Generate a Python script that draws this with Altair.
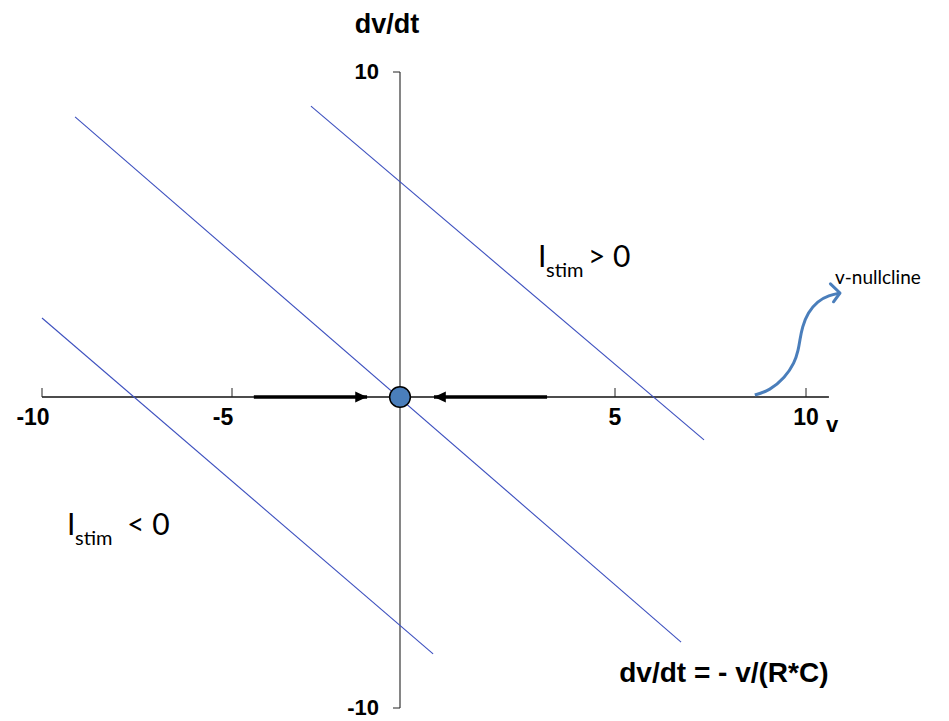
import altair as alt
import pandas as pd

# ---- axis ticks -------------------------------------------------------
v_ticks = [-10, -5, 5, 10]
v_tick_labels = ["-10", "-5", "5", "10"]
dvdt_ticks = [10, -10]
dvdt_tick_labels = ["10", "-10"]

# ---- dv/dt = -v/(R*C) + I_stim/C for three stimulus levels -------------
stim_names = ["I_stim > 0", "I_stim = 0", "I_stim < 0"]
stim_v0 = [-2.65, -9.13, -10.0]
stim_d0 = [8.95, 8.62, 2.43]
stim_v1 = [7.33, 6.73, 0.77]
stim_d1 = [-1.38, -7.88, -8.26]

# ---- stable fixed point and flow along the v axis ----------------------
fixed_v = [0.0]
fixed_d = [0.0]
flow_start = [-4.35, 3.42]
flow_tip = [-0.98, 0.79]

# ---- curved pointer to the v-nullcline ---------------------------------
pointer_v = [8.66, 9.05, 9.45, 9.70, 9.80, 9.84, 9.90, 10.05, 10.30, 10.60, 10.89]
pointer_d = [0.06, 0.20, 0.60, 1.05, 1.45, 1.75, 2.15, 2.60, 2.95, 3.13, 3.20]
head_v = [10.64, 10.89, 10.72]
head_d = [3.48, 3.20, 2.93]

BLUE_LINE = "#3d50bf"
BLUE = "#4a7ebb"
BOLD = "Liberation Sans"
SOFT = "Lato"

xs = alt.Scale(domain=[-10, -5, 0, 5, 10], range=[42, 232, 400, 615, 806], nice=False, zero=False)
ys = alt.Scale(domain=[-10, 0, 10], range=[708, 397, 72], nice=False, zero=False)


def X(f):
    return alt.X(f, type="quantitative", scale=xs, axis=None)


def Y(f):
    return alt.Y(f, type="quantitative", scale=ys, axis=None)


def X2(f):
    return alt.X2(f)


def Y2(f):
    return alt.Y2(f)


# axes drawn through the origin
x_axis = alt.Chart(pd.DataFrame({"v0": [-10.0], "v1": [10.6], "d": [0.0]})).mark_rule(
    color="#111", strokeWidth=1.4
).encode(x=X("v0"), x2=X2("v1"), y=Y("d"))

y_axis = alt.Chart(pd.DataFrame({"v": [0.0], "d0": [-10.0], "d1": [10.0]})).mark_rule(
    color="#222", strokeWidth=1.1
).encode(x=X("v"), y=Y("d0"), y2=Y2("d1"))

xt = pd.DataFrame({"v": v_ticks, "label": v_tick_labels, "d": [0.0] * len(v_ticks)})
x_tick_marks = alt.Chart(xt).mark_rule(color="#222", strokeWidth=1, y2Offset=-9).encode(
    x=X("v"), y=Y("d"), y2=Y2("d")
)
x_labels_neg = alt.Chart(xt).transform_filter("datum.v < 0").mark_text(
    font=BOLD, fontSize=23, fontWeight="bold", align="center", baseline="alphabetic", dx=-9, dy=28, color="black"
).encode(x=X("v"), y=Y("d"), text="label:N")
x_labels_pos = alt.Chart(xt).transform_filter("datum.v > 0").mark_text(
    font=BOLD, fontSize=23, fontWeight="bold", align="center", baseline="alphabetic", dy=28, color="black"
).encode(x=X("v"), y=Y("d"), text="label:N")

yt = pd.DataFrame({"d": dvdt_ticks, "label": dvdt_tick_labels, "v": [0.0] * len(dvdt_ticks)})
y_tick_marks = alt.Chart(yt).mark_rule(color="#222", strokeWidth=1, x2Offset=-7).encode(
    x=X("v"), x2=X2("v"), y=Y("d")
)
y_labels = alt.Chart(yt).mark_text(
    font=BOLD, fontSize=22, fontWeight="bold", align="right", baseline="middle", dx=-21, color="black"
).encode(x=X("v"), y=Y("d"), text="label:N")

# stimulus lines
stim = pd.DataFrame({"name": stim_names, "v0": stim_v0, "d0": stim_d0, "v1": stim_v1, "d1": stim_d1})
stim_lines = alt.Chart(stim).mark_rule(color=BLUE_LINE, strokeWidth=1.1).encode(
    x=X("v0"), y=Y("d0"), x2=X2("v1"), y2=Y2("d1"), detail="name:N"
)

# flow arrows toward the fixed point
flow = pd.DataFrame({"start": flow_start, "tip": flow_tip, "d": [0.0, 0.0]})
flow_shafts = alt.Chart(flow).mark_rule(color="black", strokeWidth=3.5).encode(
    x=X("start"), x2=X2("tip"), y=Y("d")
)
flow_heads = alt.Chart(flow).transform_calculate(
    ang="datum.tip > datum.start ? 0 : 180"
).mark_point(
    shape="M0,0 L-2,-0.95 L-2,0.95 Z", filled=True, color="black", size=140, opacity=1
).encode(x=X("tip"), y=Y("d"), angle=alt.Angle("ang:Q", scale=None))

# pointer to the nullcline label
ptr = pd.DataFrame({"v": pointer_v, "d": pointer_d})
pointer = alt.Chart(ptr).mark_line(color=BLUE, strokeWidth=3, interpolate="basis").encode(
    x=X("v"), y=Y("d")
)
head = pd.DataFrame({"v": head_v, "d": head_d, "i": [0, 1, 2]})
pointer_head = alt.Chart(head).mark_line(color=BLUE, strokeWidth=3, strokeJoin="round", strokeCap="round").encode(
    x=X("v"), y=Y("d"), order="i:Q"
)

# fixed point
fp = pd.DataFrame({"v": fixed_v, "d": fixed_d})
fixed_point = alt.Chart(fp).mark_point(
    shape="circle", filled=True, fill=BLUE, stroke="black", strokeWidth=1.5, size=430, opacity=1
).encode(x=X("v"), y=Y("d"))


def label(v, d, text, **kw):
    return alt.Chart(pd.DataFrame({"v": [v], "d": [d], "t": [text]})).mark_text(
        baseline="alphabetic", color="black", **kw
    ).encode(x=X("v"), y=Y("d"), text="t:N")


texts = [
    label(0, 10, "dv/dt", font=BOLD, fontSize=27, fontWeight="bold", align="center", dx=-13, dy=-39),
    label(10, 0, "v", font=BOLD, fontSize=22, fontWeight="bold", align="center", dx=26, dy=35),
    label(7.85, -9.16, "dv/dt = - v/(R*C)", font=BOLD, fontSize=28, fontWeight="bold", align="center"),
    label(10.89, 3.2, "v-nullcline", font=SOFT, fontSize=19, align="left", dx=-5, dy=-9),
    # I_stim > 0
    label(3.21, 4.0, "I", font=SOFT, fontSize=30, align="left"),
    label(3.21, 4.0, "stim", font=SOFT, fontSize=20, align="left", dx=8, dy=10),
    label(3.21, 4.0, "> 0", font=SOFT, fontSize=30, align="left", dx=50),
    # I_stim < 0
    label(-9.34, -4.44, "I", font=SOFT, fontSize=30, align="left"),
    label(-9.34, -4.44, "stim", font=SOFT, fontSize=20, align="left", dx=8, dy=10),
    label(-9.34, -4.44, "< 0", font=SOFT, fontSize=30, align="left", dx=60),
]

chart = alt.layer(
    x_axis, y_axis, x_tick_marks, y_tick_marks, stim_lines, flow_shafts, flow_heads,
    pointer, pointer_head, fixed_point, x_labels_neg, x_labels_pos, y_labels, *texts
).properties(
    width=949, height=721, autosize=alt.AutoSizeParams(type="none"), padding=0, background="white"
).configure_view(stroke=None)

chart.save("out.html", embed_options={"renderer": "svg", "actions": False})
